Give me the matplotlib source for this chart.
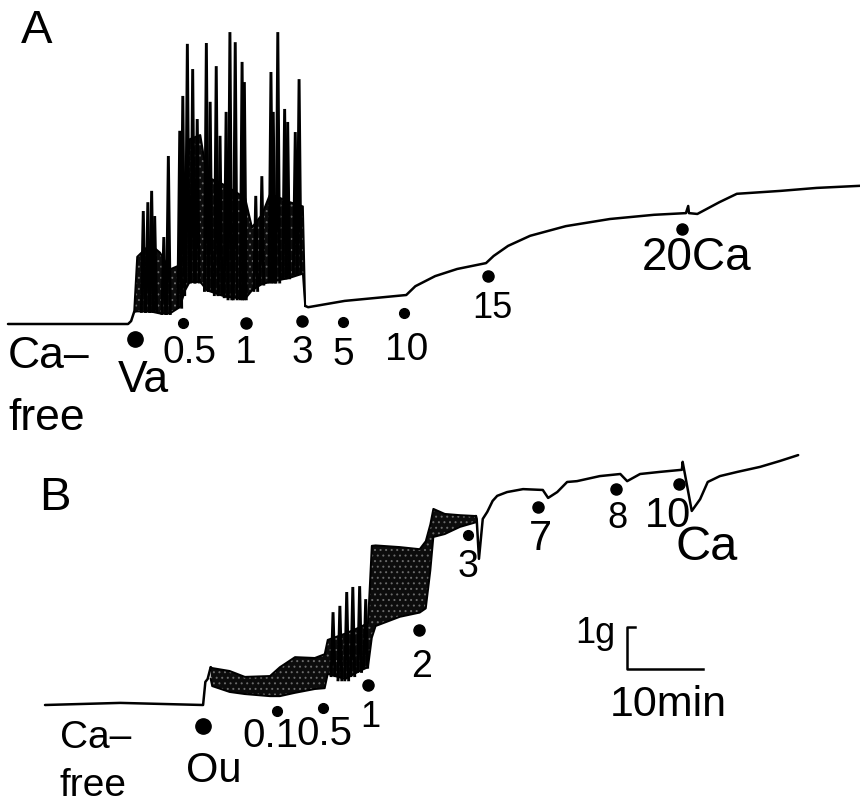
import numpy as np
import matplotlib.pyplot as plt

# record scale: 10 min = 76 px, 1 g = 42 px
PX_MIN = 7.6
PX_G = 42.0
W, H = 860, 803

# ---------------- trace A : time (min), tension (g) above Ca-free baseline
a_start_t = [0.0, 15.8, 16.2, 16.6]
a_start_g = [0.0, 0.0, 0.07, 0.29]

a_band_t = [16.6, 17.0, 18.7, 20.0, 21.3, 22.6, 23.3, 23.9, 25.3, 26.2, 28.6,
            31.2, 32.1, 33.4, 34.5, 37.1, 38.8, 39.1]
a_band_up = [0.29, 1.6, 1.9, 1.7, 1.3, 1.4, 2.5, 4.4, 4.5, 3.5, 3.3,
             3.0, 2.3, 2.6, 3.1, 2.9, 2.8, 0.43]
a_band_lo = [0.29, 0.3, 0.3, 0.25, 0.25, 0.4, 0.8, 1.0, 1.0, 0.8, 0.65,
             0.6, 0.8, 0.95, 1.0, 1.1, 1.2, 0.43]

a_spike_t = [17.8, 18.4, 18.9, 19.3, 20.5, 21.1, 22.6, 23.0, 23.6, 24.3, 24.9,
             26.1, 26.6, 27.4, 27.9, 28.7, 29.2, 29.9, 30.8, 31.1, 32.6, 33.4,
             34.6, 34.9, 35.5, 36.4, 36.8, 37.8, 38.3]
a_spike_peak = [2.69, 2.90, 3.17, 2.57, 2.07, 4.00, 4.60, 5.43, 6.67, 6.07, 4.88,
                6.69, 5.29, 6.14, 4.48, 5.05, 6.95, 6.71, 6.24, 5.76, 3.05, 3.52,
                6.00, 5.05, 6.95, 5.12, 4.81, 4.57, 5.83]
a_spike_base = [0.3, 0.3, 0.3, 0.3, 0.25, 0.25, 0.4, 0.7, 1.0, 1.0, 1.0,
                0.8, 0.8, 0.7, 0.7, 0.65, 0.6, 0.6, 0.6, 0.6, 0.8, 0.95,
                1.0, 1.0, 1.0, 1.1, 1.1, 1.2, 1.2]

a_tail_t = [39.1, 39.5, 44.3, 52.4, 53.6, 56.2, 59.1, 62.9, 63.9, 65.8, 68.7,
            73.4, 79.2, 85.0, 89.2, 89.5, 89.6, 90.7, 93.6, 95.9, 101.7, 106.4, 112.1]
a_tail_g = [0.43, 0.40, 0.55, 0.69, 0.90, 1.14, 1.31, 1.45, 1.62, 1.86, 2.10,
            2.33, 2.50, 2.60, 2.64, 2.81, 2.64, 2.62, 2.90, 3.10, 3.17, 3.24, 3.29]

a_event_lab = ['Va', '0.5', '1', '3', '5', '10', '15', '20Ca']
a_event_t = [16.7, 23.0, 31.3, 38.7, 44.1, 52.1, 63.2, 88.7]

# ---------------- trace B
b_start_t = [0.0, 9.9, 20.8, 21.1, 21.4, 21.8]
b_start_g = [0.0, 0.05, 0.0, 0.55, 0.62, 0.90]

b_band_t = [21.8, 22.0, 24.3, 26.3, 29.6, 30.9, 32.9, 35.5, 36.8, 37.2, 39.5,
            41.4, 42.5, 43.0, 43.5, 46.7, 49.3, 50.1, 50.7, 51.1, 52.6, 54.6, 56.7]
b_band_up = [0.90, 0.88, 0.81, 0.67, 0.69, 0.90, 1.14, 1.12, 1.21, 1.55, 1.70,
             1.85, 1.95, 3.79, 3.80, 3.76, 3.71, 3.90, 4.30, 4.67, 4.55, 4.52, 4.50]
b_band_lo = [0.62, 0.45, 0.31, 0.26, 0.21, 0.21, 0.29, 0.38, 0.40, 0.74, 0.62,
             0.81, 0.90, 1.60, 1.88, 2.10, 2.20, 2.30, 3.20, 4.00, 4.07, 4.24, 4.35]

b_spike_t = [37.9, 38.8, 39.7, 40.5, 41.4, 42.2]
b_spike_peak = [2.21, 2.36, 2.69, 2.81, 2.83, 2.52]
b_spike_base = [0.7, 0.6, 0.6, 0.7, 0.8, 0.9]

b_tail_t = [56.7, 56.8, 57.1, 57.6, 58.2, 58.9, 59.5, 60.8, 62.9, 65.5, 66.2,
            67.4, 68.7, 70.0, 73.0, 75.7, 76.6, 78.3, 80.9, 83.8, 83.9, 85.1,
            86.2, 87.2, 88.8, 91.1, 94.1, 96.7, 99.1]
b_tail_g = [4.50, 4.43, 3.48, 4.43, 4.60, 4.86, 4.98, 5.07, 5.14, 5.12, 4.93,
            5.07, 5.31, 5.33, 5.45, 5.50, 5.33, 5.50, 5.55, 5.60, 5.79, 4.62,
            4.90, 5.31, 5.45, 5.55, 5.67, 5.81, 5.95]

b_event_lab = ['Ou', '0.1', '0.5', '1', '2', '3', '7', '8', '10']
b_event_t = [20.8, 30.5, 36.6, 42.5, 49.2, 55.7, 64.9, 75.1, 83.4]

# ---------------- layout (pixels of the original sheet)
A_X0, A_Y0 = 8, 325      # start of trace A baseline
B_X0, B_Y0 = 45, 706
a_dot_y = [340, 324, 324, 322, 323, 314, 277, 230]
a_dot_ms = [11, 7, 8, 8, 7, 7, 8, 8]
b_dot_y = [727, 712, 709, 686, 631, 536, 508, 490, 485]
b_dot_ms = [11, 7, 7, 8, 8, 7, 8, 8, 8]

FONT = ['Liberation Sans Narrow', 'Liberation Sans', 'DejaVu Sans']
FONT_W = ['Liberation Sans', 'DejaVu Sans']

plt.rcParams['hatch.linewidth'] = 0.7

fig = plt.figure(figsize=(W / 100, H / 100), dpi=100)
ax = fig.add_axes([0, 0, 1, 1])
ax.set_xlim(0, W / PX_MIN)
ax.set_ylim(-H / PX_G, 0)
ax.axis('off')

LW = 1.8


def draw_trace(x0, y0, start_t, start_g, band_t, band_up, band_lo,
               sp_t, sp_peak, sp_base, tail_t, tail_g):
    tx = x0 / PX_MIN
    gy = -y0 / PX_G
    ax.plot(np.array(start_t) + tx, np.array(start_g) + gy, color='k', lw=LW,
            solid_capstyle='round')
    bt = np.array(band_t) + tx
    up = np.array(band_up) + gy
    lo = np.array(band_lo) + gy
    # dense oscillation: dark fill with faint speckle like the pen record
    ax.fill_between(bt, lo, up, facecolor='#0c0c0c', edgecolor='#6a6a6a',
                    hatch='...', lw=0)
    ax.plot(bt, up, color='k', lw=1.4)
    ax.plot(bt, lo, color='k', lw=1.4)
    for t, p, b in zip(sp_t, sp_peak, sp_base):
        ax.plot([t + tx - 0.25, t + tx, t + tx + 0.25], [b + gy, p + gy, b + gy],
                color='k', lw=2.1, solid_joinstyle='miter')
    ax.plot(np.array(tail_t) + tx, np.array(tail_g) + gy, color='k', lw=LW,
            solid_capstyle='round')


draw_trace(A_X0, A_Y0, a_start_t, a_start_g, a_band_t, a_band_up, a_band_lo,
           a_spike_t, a_spike_peak, a_spike_base, a_tail_t, a_tail_g)
draw_trace(B_X0, B_Y0, b_start_t, b_start_g, b_band_t, b_band_up, b_band_lo,
           b_spike_t, b_spike_peak, b_spike_base, b_tail_t, b_tail_g)

# application dots
for t, yy, ms in zip(a_event_t, a_dot_y, a_dot_ms):
    ax.plot(t + A_X0 / PX_MIN, -yy / PX_G, 'o', color='k', ms=ms)
for t, yy, ms in zip(b_event_t, b_dot_y, b_dot_ms):
    ax.plot(t + B_X0 / PX_MIN, -yy / PX_G, 'o', color='k', ms=ms)


def label(s, x, y, size, ha='center', fam=FONT):
    fig.text(x / W, 1 - y / H, s, ha=ha, va='baseline', fontsize=size,
             family=fam, color='k')


# panel A labels
label('A', 37, 43, 34, fam=FONT_W)
label('Ca–', 8, 368, 32, ha='left', fam=FONT_W)
label('free', 8, 430, 32, ha='left', fam=FONT_W)
a_lab_pos = [(143, 392, 32), (190, 363, 28), (246, 363, 28), (302, 363, 28),
             (343, 365, 28), (407, 360, 28), (492, 318, 26), (697, 270, 33)]
for s, (x, y, sz) in zip(a_event_lab, a_lab_pos):
    label(s, x, y, sz)

# panel B labels
label('B', 55, 510, 34, fam=FONT_W)
label('Ca–', 60, 748, 28, ha='left', fam=FONT_W)
label('free', 60, 796, 28, ha='left', fam=FONT_W)
b_lab_pos = [(214, 782, 30), (270, 747, 29), (324, 745, 29), (370, 727, 26),
             (422, 677, 27), (468, 577, 27), (540, 550, 30), (617, 528, 26),
             (668, 527, 30)]
for s, (x, y, sz) in zip(b_event_lab, b_lab_pos):
    label(s, x, y, sz)
label('Ca', 707, 560, 35)

# scale bar: 1 g, 10 min
sx, sy = 627 / PX_MIN, -670 / PX_G
ax.plot([sx + 1.0, sx, sx, sx + 10], [sy + 1, sy + 1, sy, sy], color='k', lw=LW)
label('1g', 595, 643, 26)
label('10min', 668, 716, 31)

fig.savefig('out.png', dpi=100)
